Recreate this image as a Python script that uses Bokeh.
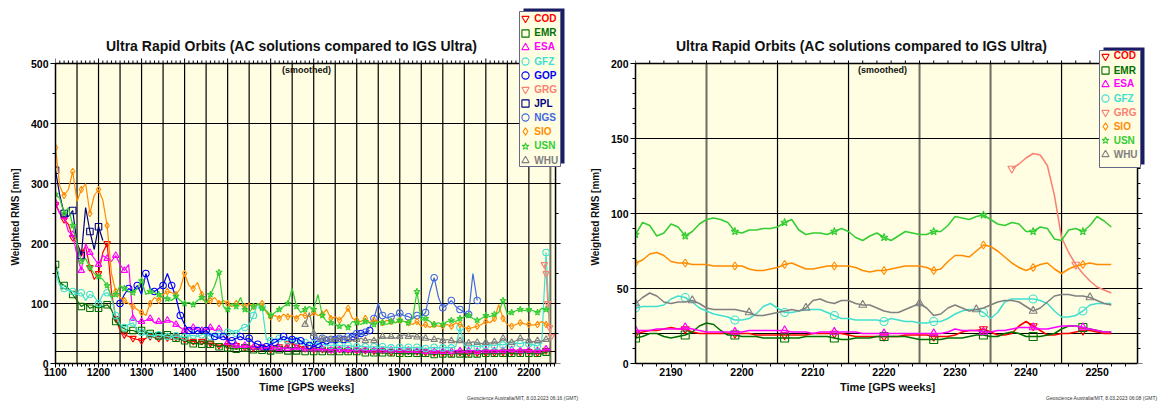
from bokeh.plotting import figure
from bokeh.layouts import row
from bokeh.models import (ColumnDataSource, Legend, LegendItem, BoxAnnotation, Label, Title,
                          SingleIntervalTicker, Range1d)
from bokeh.embed import file_html
from bokeh.resources import INLINE

# ---------------- data ----------------
AC_LEFT = ["COD", "EMR", "ESA", "GFZ", "GOP", "GRG", "JPL", "NGS", "SIO", "USN", "WHU"]
AC_RIGHT = ["COD", "EMR", "ESA", "GFZ", "GRG", "SIO", "USN", "WHU"]

COLORS = {"COD": "#ff0000", "EMR": "#007000", "ESA": "#ff00ff", "GFZ": "#40e0d0",
          "GOP": "#0000ff", "GRG": "#fa8072", "JPL": "#000080", "NGS": "#4169e1",
          "SIO": "#ff8c00", "USN": "#32cd32", "WHU": "#808080"}
MARKERS = {"COD": "inverted_triangle", "EMR": "square", "ESA": "triangle", "GFZ": "circle",
           "GOP": "circle", "GRG": "inverted_triangle", "JPL": "square", "NGS": "circle",
           "SIO": "diamond", "USN": "star", "WHU": "triangle"}

# left panel: GPS weeks (10-week sampling) and weighted RMS [mm]
weeks_all = list(range(1100, 2251, 10))
weeks_gop = list(range(1250, 1831, 10))
weeks_jpl = list(range(1100, 1211, 10))
weeks_ngs = list(range(1700, 2081, 10))
weeks_whu = list(range(1680, 2251, 10))
weeks_grg = [2236, 2240, 2244, 2248, 2252]

cod_l = [265, 250, 240, 232, 210, 200, 185, 195, 160, 140,
         150, 185, 200, 120, 75, 55, 48, 45, 42, 40,
         38, 42, 45, 43, 42, 46, 43, 40, 44, 42,
         40, 38, 37, 35, 37, 33, 34, 33, 30, 31,
         30, 29, 30, 28, 27, 28, 26, 25, 27, 25,
         24, 30, 28, 26, 33, 35, 30, 28, 25, 24,
         24, 23, 24, 22, 23, 22, 24, 22, 23, 22,
         22, 21, 22, 20, 21, 20, 22, 20, 19, 20,
         20, 19, 21, 19, 20, 18, 19, 20, 18, 19,
         18, 19, 17, 18, 19, 17, 18, 19, 18, 17,
         18, 19, 18, 20, 19, 18, 19, 20, 19, 21,
         20, 19, 18, 19, 22, 20]
emr_l = [165, 135, 130, 125, 115, 105, 95, 100, 92, 95,
         92, 95, 98, 90, 70, 62, 58, 55, 55, 52,
         55, 52, 50, 48, 46, 45, 48, 45, 42, 40,
         38, 35, 33, 33, 32, 35, 32, 30, 28, 30,
         26, 25, 24, 25, 26, 24, 23, 24, 22, 22,
         21, 22, 23, 22, 21, 22, 21, 22, 20, 21,
         20, 21, 20, 19, 20, 21, 20, 19, 20, 19,
         20, 19, 18, 19, 18, 17, 18, 17, 18, 17,
         17, 16, 17, 16, 17, 16, 17, 16, 15, 16,
         16, 15, 16, 17, 16, 15, 16, 17, 16, 16,
         17, 16, 17, 16, 17, 18, 17, 16, 17, 18,
         17, 16, 17, 16, 19, 21]
esa_l = [268, 250, 245, 220, 215, 180, 155, 200, 185, 175,
         165, 180, 175, 170, 180, 165, 155, 165, 75, 70,
         70, 72, 75, 68, 70, 68, 72, 70, 65, 60,
         55, 58, 60, 58, 55, 58, 60, 55, 58, 48,
         35, 32, 30, 28, 30, 28, 27, 28, 26, 27,
         26, 27, 25, 26, 25, 24, 26, 25, 24, 25,
         24, 23, 24, 23, 22, 24, 23, 22, 23, 22,
         22, 23, 22, 21, 22, 23, 22, 21, 22, 21,
         22, 21, 22, 20, 21, 22, 20, 21, 20, 21,
         20, 21, 20, 22, 21, 20, 21, 22, 20, 21,
         21, 22, 21, 22, 21, 22, 23, 22, 21, 23,
         22, 21, 21, 22, 24, 23]
gfz_l = [150, 130, 125, 122, 120, 115, 118, 105, 115, 112,
         100, 115, 118, 110, 80, 65, 60, 65, 68, 55,
         52, 48, 47, 46, 48, 47, 45, 44, 46, 45,
         44, 46, 47, 45, 48, 50, 45, 48, 50, 48,
         52, 55, 50, 58, 60, 65, 80, 100, 95, 40,
         38, 40, 42, 40, 38, 40, 38, 36, 35, 34,
         33, 34, 32, 31, 30, 31, 30, 29, 30, 29,
         28, 29, 28, 27, 28, 27, 28, 27, 26, 27,
         27, 26, 27, 26, 27, 26, 25, 26, 27, 26,
         26, 27, 26, 28, 60, 30, 29, 30, 28, 29,
         30, 31, 30, 32, 31, 33, 32, 34, 33, 35,
         33, 31, 29, 34, 185, 38]
gop_l = [100, 115, 125, 120, 130,
         115, 150, 125, 120, 125, 130, 150, 130, 110, 80,
         65, 55, 50, 55, 52, 55, 48, 45, 42, 45,
         40, 38, 42, 45, 40, 42, 35, 32, 30, 28,
         32, 35, 40, 45, 42, 40, 42, 38, 32, 30,
         28, 32, 35, 38, 35, 40, 42, 40, 38, 45,
         42, 50, 52, 55]
grg_l = [165, 150, 100, 60, 45]
jpl_l = [322, 280, 250, 245, 255, 200, 180, 260, 220, 190, 228, 205]
ngs_l = [45, 40, 42, 38, 40, 45, 42, 40, 45, 48,
         50, 48, 52, 60, 75, 100, 80, 76, 78, 80,
         84, 80, 78, 75, 80, 78, 85, 120, 143, 110,
         93, 98, 105, 95, 90, 85, 82, 150, 105]
sio_l = [360, 295, 280, 290, 320, 270, 290, 300, 250, 280,
         290, 272, 230, 150, 120, 110, 105, 100, 95, 90,
         85, 80, 100, 110, 105, 115, 120, 118, 115, 125,
         150, 130, 125, 135, 115, 100, 105, 110, 100, 105,
         100, 95, 100, 98, 95, 100, 95, 98, 100, 85,
         78, 80, 75, 82, 78, 80, 75, 82, 80, 78,
         85, 80, 82, 90, 75, 78, 72, 80, 92, 75,
         72, 70, 75, 68, 72, 70, 68, 72, 70, 68,
         72, 70, 68, 65, 70, 62, 65, 60, 65, 62,
         63, 65, 62, 68, 65, 60, 58, 60, 62, 65,
         70, 68, 75, 98, 75, 65, 62, 65, 68, 66,
         65, 64, 65, 70, 65, 66]
usn_l = [282, 275, 250, 260, 230, 200, 170, 175, 160, 150,
         145, 140, 130, 110, 115, 130, 125, 120, 118, 125,
         138, 115, 120, 118, 115, 110, 108, 105, 112, 105,
         100, 102, 98, 105, 110, 100, 115, 130, 152, 95,
         90, 100, 95, 110, 90, 85, 95, 100, 92, 88,
         80, 85, 90, 95, 100, 125, 95, 85, 90, 95,
         90, 115, 80, 70, 68, 65, 62, 65, 60, 70,
         68, 65, 70, 68, 65, 70, 68, 65, 70, 68,
         72, 70, 68, 75, 120, 72, 75, 70, 65, 68,
         65, 70, 72, 70, 75, 78, 80, 75, 72, 75,
         80, 78, 82, 85, 105, 82, 85, 88, 90, 88,
         90, 88, 85, 92, 90, 92]
whu_l = [65, 85,
         50, 42, 40, 45, 40, 42, 40, 44, 40, 38,
         40, 42, 38, 40, 38, 40, 45, 42, 45, 42,
         45, 48, 45, 46, 44, 45, 42, 40, 40, 42,
         38, 40, 38, 36, 38, 35, 34, 36, 35, 33,
         35, 34, 36, 35, 42, 36, 35, 38, 42, 40,
         38, 36, 38, 37, 40, 42]

# right panel: weekly smoothed values, GPS weeks 2185..2252
weeks_r = list(range(2185, 2253))
weeks_grg_r = list(range(2238, 2253))
cod_r = [20, 21, 22, 22, 23, 24, 23, 23, 21, 20, 20, 20, 20, 20, 20, 20, 20, 19, 19, 19,
         19, 19, 19, 19, 19, 20, 20, 20, 20, 20, 19, 18, 18, 18, 18, 18, 18, 18, 19, 19,
         19, 19, 18, 18, 18, 19, 21, 22, 22, 23, 21, 19, 19, 20, 25, 28, 25, 22, 19, 19,
         20, 20, 21, 22, 22, 21, 20, 20]
emr_r = [17, 18, 20, 20, 18, 17, 18, 19, 21, 25, 27, 26, 22, 19, 19, 18, 18, 18, 17, 17,
         17, 17, 17, 17, 18, 18, 18, 18, 17, 16, 16, 17, 17, 17, 18, 18, 18, 18, 18, 17,
         16, 16, 16, 16, 17, 17, 17, 18, 19, 19, 18, 18, 20, 21, 20, 18, 18, 18, 19, 20,
         23, 25, 25, 24, 23, 22, 21, 21]
esa_r = [22, 22, 22, 23, 23, 23, 23, 24, 23, 22, 21, 21, 21, 21, 21, 21, 22, 22, 22, 22,
         22, 22, 21, 21, 21, 20, 21, 21, 21, 21, 21, 21, 20, 20, 20, 20, 20, 20, 20, 20,
         20, 20, 20, 20, 21, 23, 22, 22, 22, 21, 21, 22, 22, 23, 24, 24, 24, 23, 23, 24,
         25, 25, 25, 24, 23, 22, 21, 21]
gfz_r = [37, 38, 38, 38, 39, 43, 45, 44, 41, 37, 35, 33, 32, 31, 29, 29, 30, 33, 38, 40,
         37, 34, 34, 35, 36, 36, 36, 34, 32, 30, 30, 29, 29, 29, 29, 28, 30, 29, 28, 28,
         27, 27, 28, 28, 30, 33, 35, 36, 36, 34, 30, 34, 41, 43, 43, 43, 43, 42, 40, 35,
         31, 31, 32, 35, 39, 40, 40, 40]
grg_r = [130, 133, 137, 140, 139, 132, 112, 84, 74, 66, 60, 55, 51, 49, 47]
sio_r = [67, 69, 73, 74, 72, 68, 67, 67, 66, 66, 66, 65, 65, 65, 65, 65, 63, 62, 62, 63,
         64, 66, 67, 65, 63, 63, 64, 65, 65, 65, 65, 64, 62, 61, 62, 62, 63, 64, 65, 65,
         65, 64, 62, 63, 68, 72, 72, 71, 75, 79, 78, 75, 71, 67, 64, 62, 64, 66, 67, 63,
         60, 63, 65, 66, 67, 66, 66, 66]
usn_r = [86, 94, 92, 85, 87, 93, 91, 85, 88, 93, 96, 97, 96, 94, 88, 87, 89, 89, 90, 90,
         91, 94, 96, 89, 86, 87, 87, 86, 88, 90, 88, 84, 82, 85, 87, 84, 82, 85, 88, 87,
         86, 86, 88, 88, 92, 98, 97, 96, 98, 99, 96, 93, 92, 94, 93, 88, 88, 91, 90, 83,
         82, 89, 90, 88, 92, 98, 95, 91]
whu_r = [40, 44, 47, 45, 41, 40, 41, 41, 42, 40, 37, 36, 36, 36, 36, 35, 34, 32, 32, 33,
         34, 35, 36, 35, 37, 42, 43, 41, 40, 42, 42, 40, 39, 39, 37, 35, 34, 34, 36, 38,
         40, 37, 32, 33, 37, 39, 37, 35, 36, 37, 39, 41, 42, 42, 41, 38, 35, 37, 41, 45,
         46, 46, 45, 45, 44, 42, 40, 39]

LEFT = {"COD": (weeks_all, cod_l), "EMR": (weeks_all, emr_l), "ESA": (weeks_all, esa_l),
        "GFZ": (weeks_all, gfz_l), "GOP": (weeks_gop, gop_l), "GRG": (weeks_grg, grg_l),
        "JPL": (weeks_jpl, jpl_l), "NGS": (weeks_ngs, ngs_l), "SIO": (weeks_all, sio_l),
        "USN": (weeks_all, usn_l), "WHU": (weeks_whu, whu_l)}
RIGHT = {"COD": (weeks_r, cod_r), "EMR": (weeks_r, emr_r), "ESA": (weeks_r, esa_r),
         "GFZ": (weeks_r, gfz_r), "GRG": (weeks_grg_r, grg_r), "SIO": (weeks_r, sio_r),
         "USN": (weeks_r, usn_r), "WHU": (weeks_r, whu_r)}

TITLE = "Ultra Rapid Orbits (AC solutions compared to IGS Ultra)"
FONT = "Liberation Sans"
PLOT_BG = "#fffde2"
H = 401


def make_panel(canvas_left, width, xlim, ylim, plot_px, frame_right, xtick, xminor,
               ytick, yminor, vgrid_black, vgrid_gray, hgrid, series, names, mstep, msize,
               lw, title_cx, smooth_cx, footer, leg_rows, leg_gx, leg_box):
    X0, X1 = xlim
    Y0, Y1 = ylim
    PL, PR, PT, PB = plot_px          # plot area in page pixels
    sx = (PR - PL) / (X1 - X0)        # px per x unit
    sy = (PB - PT) / (Y1 - Y0)        # px per y unit
    x_end = X1 + (frame_right - PR) / sx
    y_end = Y1 + PT / sy              # frame reaches the top of the canvas
    p = figure(width=width, height=H, x_range=Range1d(X0, x_end), y_range=Range1d(Y0, y_end),
               output_backend="svg", toolbar_location=None, title=None,
               min_border_left=PL - canvas_left, min_border_right=canvas_left + width - frame_right,
               min_border_top=0, min_border_bottom=H - PB,
               background_fill_color="white", border_fill_color="white",
               outline_line_color=None)
    p.xgrid.visible = False
    p.ygrid.visible = False

    # plot area background
    p.quad(left=[X0], right=[X1], bottom=[Y0], top=[Y1], fill_color=PLOT_BG, line_alpha=0)
    # grid lines
    p.segment(x0=vgrid_gray, x1=vgrid_gray, y0=[Y0] * len(vgrid_gray), y1=[Y1] * len(vgrid_gray),
              line_color="#6e6e60", line_width=2)
    p.segment(x0=vgrid_black, x1=vgrid_black, y0=[Y0] * len(vgrid_black),
              y1=[Y1] * len(vgrid_black), line_color="black", line_width=1.2)
    p.segment(x0=[X0] * len(hgrid), x1=[X1] * len(hgrid), y0=hgrid, y1=hgrid,
              line_color="black", line_width=1.2)

    # series
    scat = {}
    for n in names:
        wk, vals = series[n]
        src = ColumnDataSource(dict(x=wk, y=vals))
        p.line("x", "y", source=src, line_color=COLORS[n], line_width=lw)
        st = mstep.get(n, mstep["_"])
        msrc = ColumnDataSource(dict(x=wk[::st], y=vals[::st]))
        scat[n] = p.scatter("x", "y", source=msrc, marker=MARKERS[n], size=msize,
                            line_color=COLORS[n], fill_alpha=0, line_width=1.1)

    # top and right border with outward ticks
    p.segment(x0=[X0, X1], x1=[X1, X1], y0=[Y1, Y0], y1=[Y1, Y1], line_color="black",
              line_width=1.5)
    xmin_step = xtick / xminor
    xt_all = [X0 + i * xmin_step for i in range(int((X1 - X0) / xmin_step) + 1)]
    xt_all = [v for v in xt_all if v <= X1]
    xt_maj = [v for v in xt_all if abs(v / xtick - round(v / xtick)) < 1e-6]
    xt_min = [v for v in xt_all if v not in xt_maj]
    p.segment(x0=xt_maj, x1=xt_maj, y0=[Y1] * len(xt_maj), y1=[Y1 + 5 / sy] * len(xt_maj),
              line_color="black", line_width=1)
    p.segment(x0=xt_min, x1=xt_min, y0=[Y1] * len(xt_min), y1=[Y1 + 3 / sy] * len(xt_min),
              line_color="black", line_width=1)
    ymin_step = ytick / yminor
    yt_all = [Y0 + i * ymin_step for i in range(int((Y1 - Y0) / ymin_step) + 1)]
    yt_maj = [v for v in yt_all if abs(v / ytick - round(v / ytick)) < 1e-6]
    yt_min = [v for v in yt_all if v not in yt_maj]
    p.segment(x0=[X1] * len(yt_maj), x1=[X1 + 5 / sx] * len(yt_maj), y0=yt_maj, y1=yt_maj,
              line_color="black", line_width=1)
    p.segment(x0=[X1] * len(yt_min), x1=[X1 + 3 / sx] * len(yt_min), y0=yt_min, y1=yt_min,
              line_color="black", line_width=1)

    # left / bottom axes
    xa = p.xaxis[0]
    ya = p.yaxis[0]
    xa.ticker = SingleIntervalTicker(interval=xtick, num_minor_ticks=xminor)
    ya.ticker = SingleIntervalTicker(interval=ytick, num_minor_ticks=yminor)
    xa.bounds = (X0, X1)
    ya.bounds = (Y0, Y1)
    for ax in (xa, ya):
        ax.axis_line_color = "black"
        ax.axis_line_width = 1.5
        ax.major_tick_line_color = "black"
        ax.minor_tick_line_color = "black"
        ax.major_tick_in = 0
        ax.minor_tick_in = 0
        ax.minor_tick_out = 3
        ax.major_label_text_font = FONT
        ax.major_label_text_font_style = "bold"
        ax.major_label_text_font_size = "10.5px"
        ax.major_label_text_color = "black"
    xa.major_tick_out = 4
    xa.major_label_standoff = 0
    ya.major_tick_out = 5
    ya.major_label_standoff = 2

    # axis titles and footer (side panels)
    p.add_layout(Title(text="Time [GPS weeks]", align="left", offset=(PR - PL) / 2 - 47.5,
                       standoff=0, text_font=FONT, text_font_style="bold",
                       text_font_size="11px", text_color="#111111"), "below")
    p.add_layout(Title(text=footer[0], align="right", offset=frame_right - footer[1],
                       standoff=0, text_font=FONT, text_font_style="normal",
                       text_font_size="5px", text_color="#333333"), "below")
    p.add_layout(Title(text="Weighted RMS [mm]", align="left", offset=PB - 265, standoff=14,
                       text_font=FONT, text_font_style="bold", text_font_size="10px",
                       text_color="#111111"), "left")

    # title and (smoothed) inside the frame
    p.add_layout(Label(x=title_cx - PL, y=PB - 45, x_units="screen", y_units="screen",
                       text=TITLE, text_font=FONT, text_font_style="bold", text_font_size="14px",
                       text_align="center", text_baseline="middle", text_color="#111111"))
    p.add_layout(Label(x=smooth_cx - PL, y=PB - 64, x_units="screen", y_units="screen",
                       text="(smoothed)", text_font=FONT, text_font_style="bold",
                       text_font_size="9px", text_align="center", text_baseline="top",
                       text_color="#111111"))

    # legend box with shadow
    l, r, t, b = leg_box
    p.add_layout(BoxAnnotation(left=l + 4, right=r + 4, top=t + 3, bottom=b + 3,
                               left_units="screen", right_units="screen",
                               top_units="screen", bottom_units="screen",
                               fill_color="#1c1c66", fill_alpha=1, line_alpha=0))
    p.add_layout(BoxAnnotation(left=l, right=r, top=t, bottom=b,
                               left_units="screen", right_units="screen",
                               top_units="screen", bottom_units="screen",
                               fill_color=PLOT_BG, fill_alpha=1, line_color="#66668a",
                               line_width=1, line_alpha=1))
    for n, yc in zip(names, leg_rows):
        leg = Legend(items=[LegendItem(label=n, renderers=[scat[n]])],
                     location=(leg_gx, yc - 9), padding=0, margin=0, spacing=0,
                     border_line_alpha=0, background_fill_alpha=0,
                     glyph_width=18, glyph_height=18, label_standoff=0, label_height=12,
                     label_text_font=FONT, label_text_font_style="bold",
                     label_text_font_size="10px", label_text_color=COLORS[n])
        p.add_layout(leg)
    return p


# left panel: plot area at page x 53..555, y 63..363
left_rows_page = [18.3, 32.7, 46.7, 61, 75.3, 89.3, 103.3, 117.3, 131.3, 145.7, 160]
p1 = make_panel(canvas_left=0, width=580, xlim=(1100, 2262), ylim=(0, 500),
                plot_px=(53, 555, 63, 363), frame_right=566,
                xtick=100, xminor=10, ytick=100, yminor=2,
                vgrid_black=list(range(1150, 2201, 50)), vgrid_gray=[2250],
                hgrid=[20, 50, 100, 200, 300, 400],
                series=LEFT, names=AC_LEFT, mstep={"_": 2, "GRG": 1}, msize=6.5, lw=1.2,
                title_cx=289, smooth_cx=304,
                footer=("Geoscience Australia/MIT, 8.03.2023 06:16 (GMT)", 578),
                leg_rows=[363 - y for y in left_rows_page], leg_gx=523.3 - 9 - 53,
                leg_box=(464, 505, 352, 197))

# right panel: plot area at page x 633..1137, y 63..363
right_rows_page = [55.7, 70, 83.7, 98, 112, 126, 140, 154]
p2 = make_panel(canvas_left=580, width=579, xlim=(2185, 2255.7), ylim=(0, 200),
                plot_px=(633, 1137, 63, 363), frame_right=1146,
                xtick=10, xminor=5, ytick=50, yminor=5,
                vgrid_black=[2205, 2215, 2245], vgrid_gray=[2195, 2225, 2235],
                hgrid=[20, 50, 100, 150],
                series=RIGHT, names=AC_RIGHT, mstep={"_": 7, "GRG": 9, "WHU": 8}, msize=8,
                lw=1.5, title_cx=859, smooth_cx=880,
                footer=("Geoscience Australia/MIT, 8.03.2023 06:08 (GMT)", 1157),
                leg_rows=[363 - y for y in right_rows_page], leg_gx=1102.7 - 9 - 633,
                leg_box=(464, 505, 313, 196))

layout = row(p1, p2, spacing=0)
open("out.html", "w").write(file_html(layout, INLINE))
